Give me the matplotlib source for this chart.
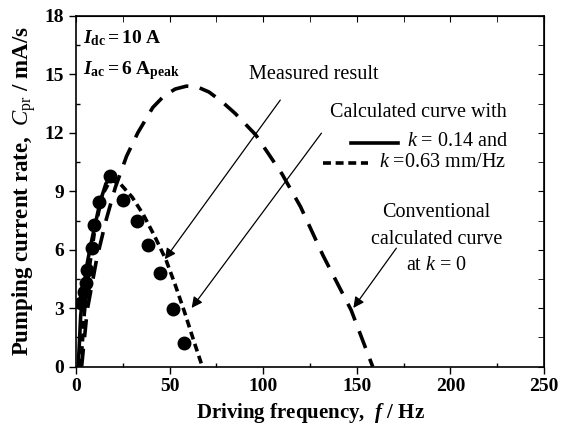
import matplotlib
matplotlib.use("Agg")
import matplotlib.pyplot as plt
from matplotlib.ticker import MultipleLocator

plt.rcParams['font.family'] = ['Liberation Serif', 'DejaVu Serif']
plt.rcParams['mathtext.fontset'] = 'custom'
plt.rcParams['mathtext.rm'] = 'Liberation Serif'
plt.rcParams['mathtext.it'] = 'Liberation Serif:italic'
plt.rcParams['mathtext.bf'] = 'Liberation Serif:bold'
plt.rcParams['mathtext.bfit'] = 'Liberation Serif:bold:italic'

# Measured points
meas_f = [2.7, 4.3, 5.2, 5.7, 8.4, 9.6, 12.5, 18.2, 24.9, 32.4, 38.3, 44.9, 51.7, 57.9]
meas_c = [3.26, 3.85, 4.3, 4.97, 6.08, 7.25, 8.43, 9.8, 8.53, 7.5, 6.25, 4.8, 2.95, 1.23]

# Calculated curve k = 0.14 (solid)
solid_f = [1.2, 2.5, 4.0, 6.0, 8.0, 10.0, 13.0, 16.0, 18.5]
solid_c = [0.0, 2.6, 4.0, 5.3, 6.3, 7.2, 8.5, 9.4, 9.7]

# Calculated curve k = 0.63 (short dash)
sdash_f = [2.5, 4.5, 7.0, 10.0, 14.0, 18.5, 24.0, 30.0, 36.0, 42.0, 48.0, 53.0, 58.0, 63.0, 67.5]
sdash_c = [0.0, 2.8, 5.0, 7.0, 8.8, 9.6, 9.35, 8.7, 7.8, 6.7, 5.5, 4.2, 2.8, 1.3, 0.0]

# Conventional curve k = 0 (long dash)
ldash_f = [3.0, 6.0, 11.0, 16.0, 21.0, 27.0, 33.0, 41.0, 47.0, 53.0, 59.0, 65.0, 71.0, 78.0, 85.0, 96.0, 110.0, 120.0, 132.0, 147.0, 158.5]
ldash_c = [0.0, 2.9, 5.5, 7.5, 9.2, 10.8, 12.0, 13.3, 13.9, 14.25, 14.4, 14.35, 14.1, 13.6, 13.0, 11.9, 9.9, 8.2, 5.7, 2.9, 0.0]

fig = plt.figure(figsize=(5.77, 4.32), dpi=100)
ax = fig.add_axes([0.1317, 0.1512, 0.8111, 0.8118])

ax.plot(ldash_f, ldash_c, color='black', lw=2.6, dashes=(5, 3.2))
ax.plot(sdash_f, sdash_c, color='black', lw=2.6, dashes=(2.2, 1.3))
ax.plot(solid_f, solid_c, color='black', lw=2.6)
ax.plot(meas_f, meas_c, 'o', color='black', ms=9)

ax.set_xlim(0, 250)
ax.set_ylim(0, 18)
ax.xaxis.set_major_locator(MultipleLocator(50))
ax.xaxis.set_minor_locator(MultipleLocator(25))
ax.yaxis.set_major_locator(MultipleLocator(3))
ax.yaxis.set_minor_locator(MultipleLocator(1.5))
ax.tick_params(which='major', direction='out', length=5, width=1, labelsize=14, top=False, right=False)
ax.tick_params(which='minor', direction='in', length=3, width=1, top=False, right=False)
for lab in ax.get_xticklabels() + ax.get_yticklabels():
    lab.set_fontweight('bold')

# top/right inward ticks
sec_x = ax.secondary_xaxis('top')
sec_x.xaxis.set_major_locator(MultipleLocator(50))
sec_x.xaxis.set_minor_locator(MultipleLocator(25))
sec_x.tick_params(which='both', direction='in', length=4, labeltop=False)
sec_y = ax.secondary_yaxis('right')
sec_y.yaxis.set_major_locator(MultipleLocator(3))
sec_y.yaxis.set_minor_locator(MultipleLocator(1.5))
sec_y.tick_params(which='both', direction='in', length=4, labelright=False)
for s in ax.spines.values():
    s.set_linewidth(1.2)

ax.set_xlabel(r'Driving frequency,  $\boldsymbol{f}$ / Hz', fontsize=15, fontweight='bold', labelpad=4)
ax.set_ylabel(r'Pumping current rate,  $C_{\mathrm{pr}}$ / mA/s', fontsize=16.5, fontweight='bold', labelpad=5)

# Conditions
ax.text(4, 16.85, r'$\mathbfit{I}_{\mathbf{dc}}\mathbf{=10\ A}$', fontsize=14, va='center')
ax.text(4, 15.2, r'$\mathbfit{I}_{\mathbf{ac}}\mathbf{=6\ A}_{\mathbf{peak}}$', fontsize=14, va='center')

tfs = 14.5
ax.text(127, 15.0, 'Measured result', fontsize=tfs, ha='center', va='center')
ax.annotate('', xy=(46.6, 5.4), xytext=(110, 13.8),
            arrowprops=dict(arrowstyle='-|>', color='black', lw=0.9, mutation_scale=16))

ax.text(183, 13.05, 'Calculated curve with', fontsize=tfs, ha='center', va='center')
ax.plot([147, 172], [11.5, 11.5], color='black', lw=2.6)
ax.text(177, 11.55, r'$k$ = 0.14 and', fontsize=tfs, ha='left', va='center')
ax.plot([132, 156], [10.45, 10.45], color='black', lw=2.6, dashes=(2.2, 1.3))
ax.text(162, 10.5, r'$k$ =0.63 mm/Hz', fontsize=tfs, ha='left', va='center')
ax.annotate('', xy=(60.9, 2.9), xytext=(132, 12.1),
            arrowprops=dict(arrowstyle='-|>', color='black', lw=0.9, mutation_scale=16))

ax.text(192.7, 7.9, 'Conventional', fontsize=tfs, ha='center', va='center')
ax.text(192.7, 6.55, 'calculated curve', fontsize=tfs, ha='center', va='center')
ax.text(192.7, 5.2, r'at $k$ = 0', fontsize=tfs, ha='center', va='center')
ax.annotate('', xy=(147.3, 2.9), xytext=(172, 6.2),
            arrowprops=dict(arrowstyle='-|>', color='black', lw=0.9, mutation_scale=16))

fig.savefig('out.png', dpi=100)
